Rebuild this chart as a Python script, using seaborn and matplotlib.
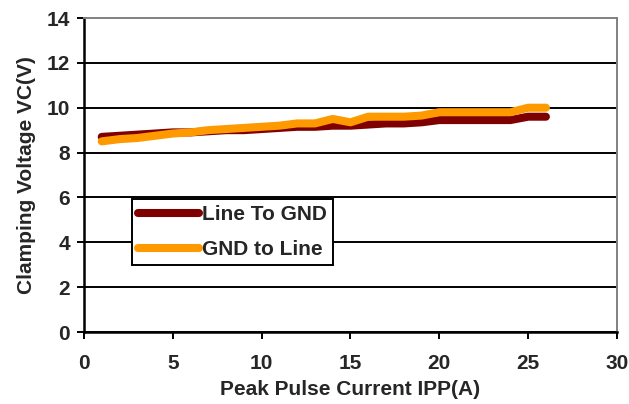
import matplotlib
matplotlib.use("Agg")
import matplotlib.pyplot as plt
import seaborn as sns
import pandas as pd

current = list(range(1, 27))
line_to_gnd = [8.7, 8.75, 8.8, 8.85, 8.9, 8.9, 8.95, 9.0, 9.0, 9.05, 9.1, 9.15, 9.15, 9.2,
               9.2, 9.25, 9.3, 9.3, 9.35, 9.45, 9.45, 9.45, 9.45, 9.45, 9.6, 9.6]
gnd_to_line = [8.5, 8.6, 8.65, 8.75, 8.85, 8.9, 9.0, 9.05, 9.1, 9.15, 9.2, 9.3, 9.3, 9.5,
               9.35, 9.6, 9.6, 9.6, 9.65, 9.8, 9.8, 9.8, 9.8, 9.8, 10.0, 10.0]
series_names = ["Line To GND", "GND to Line"]
colors = ["#7f0000", "#ff9900"]
xticks = [0, 5, 10, 15, 20, 25, 30]
yticks = [0, 2, 4, 6, 8, 10, 12, 14]

df = pd.DataFrame({
    "x": current * 2,
    "y": line_to_gnd + gnd_to_line,
    "s": [series_names[0]] * len(current) + [series_names[1]] * len(current),
})

sns.set_style("white")
plt.rcParams["font.family"] = ["Liberation Sans", "DejaVu Sans"]
plt.rcParams["font.weight"] = "bold"

fig = plt.figure(figsize=(6.29, 4.04), dpi=100)
ax = fig.add_axes([0.1335, 0.1782, 0.8474, 0.7772])

for yt in yticks[:-1]:
    ax.axhline(yt, color="black", lw=1.4, zorder=1)

sns.lineplot(data=df, x="x", y="y", hue="s", palette=colors, linewidth=5.8,
             ax=ax, legend=True, zorder=3, solid_capstyle="round")

ax.set_xlim(0, 30)
ax.set_ylim(0, 14)
ax.set_xticks(xticks)
ax.set_yticks(yticks)
ax.tick_params(axis="both", labelsize=15, length=5, width=1.4, color="black",
               direction="out", left=True, bottom=True)
ax.tick_params(axis="y", pad=5)
ax.tick_params(axis="x", pad=11)
for lab in ax.get_xticklabels() + ax.get_yticklabels():
    lab.set_fontweight("bold")
for sp in ["top", "right"]:
    ax.spines[sp].set_color("#808080")
    ax.spines[sp].set_linewidth(1.4)
for sp in ["left", "bottom"]:
    ax.spines[sp].set_color("black")
    ax.spines[sp].set_linewidth(1.8)
ax.set_xlabel("Peak Pulse Current IPP(A)", fontsize=15, fontweight="bold", labelpad=5)
ax.set_ylabel("Clamping Voltage VC(V)", fontsize=15, fontweight="bold", labelpad=8)

handles, labels = ax.get_legend_handles_labels()
leg = ax.legend(handles, labels, loc="lower left", bbox_to_anchor=(0.090, 0.213),
                frameon=True, fancybox=False, edgecolor="black", framealpha=1,
                prop={"size": 15, "weight": "bold"}, handlelength=2.9,
                handletextpad=0.15, borderpad=0.3, labelspacing=0.75, borderaxespad=0)
leg.get_frame().set_linewidth(1.4)
leg.set_zorder(5)

fig.savefig("out.png", dpi=100)
